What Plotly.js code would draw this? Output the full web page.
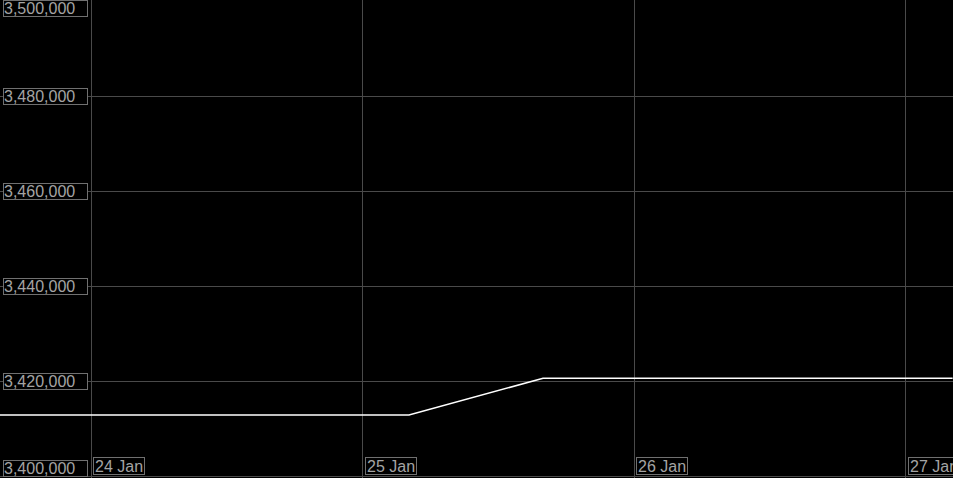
<!DOCTYPE html>
<html><head>
<meta charset="utf-8">
<script src="https://cdn.plot.ly/plotly-3.0.1.min.js"></script>
<style>html,body{margin:0;padding:0;background:#000;overflow:hidden}</style>
</head><body>
<div id="chart" style="width:953px;height:478px"></div>
<script>
// Data
const dates = ['2024-01-23 15:56', '2024-01-25 04:05', '2024-01-25 15:56', '2024-01-27 04:08'];
const values = [3412840, 3412840, 3420570, 3420570];
const yTicks = [3400000, 3420000, 3440000, 3460000, 3480000, 3500000];
const yLabels = ['3,400,000', '3,420,000', '3,440,000', '3,460,000', '3,480,000', '3,500,000'];
const xTicks = ['2024-01-24', '2024-01-25', '2024-01-26', '2024-01-27'];
const xLabels = ['24 Jan', '25 Jan', '26 Jan', '27 Jan'];

const gridColor = '#4a4a4a';
const textColor = '#a4a4a4';
const boxColor = '#707070';
const font = {family: 'Liberation Sans, Arial, sans-serif', size: 16, color: textColor};

const annotations = [];
yTicks.forEach((v, i) => {
  let anchor = 'middle', shift = 0;
  if (i === 0) { anchor = 'bottom'; shift = -1; }
  if (i === yTicks.length - 1) { anchor = 'top'; shift = 1; }
  annotations.push({
    xref: 'paper', x: 0, xanchor: 'left', xshift: 3,
    yref: 'y', y: v, yanchor: anchor, yshift: shift,
    text: yLabels[i], showarrow: false, font: font,
    bordercolor: boxColor, borderwidth: 1, borderpad: 0,
    width: 83, height: 15, align: 'left', bgcolor: '#000'
  });
});
xTicks.forEach((d, i) => {
  annotations.push({
    xref: 'x', x: d, xanchor: 'left', xshift: 2,
    yref: 'paper', y: 0, yanchor: 'bottom', yshift: 3,
    text: xLabels[i], showarrow: false, font: font,
    bordercolor: boxColor, borderwidth: 1, borderpad: 1,
    height: 14, bgcolor: '#000'
  });
});

Plotly.newPlot('chart', [{
  type: 'scatter', mode: 'lines', x: dates, y: values,
  line: {color: '#ffffff', width: 1.5}, hoverinfo: 'skip'
}], {
  width: 953, height: 478,
  margin: {l: 0, r: 0, t: 0, b: 0, pad: 0},
  paper_bgcolor: '#000', plot_bgcolor: '#000',
  showlegend: false,
  xaxis: {
    type: 'date', range: ['2024-01-23 15:56', '2024-01-27 04:10'],
    tickvals: xTicks, showticklabels: false, showgrid: true,
    gridcolor: gridColor, gridwidth: 1, zeroline: false, showline: false, ticks: ''
  },
  yaxis: {
    range: [3399579, 3500210],
    tickvals: yTicks, showticklabels: false, showgrid: true,
    gridcolor: gridColor, gridwidth: 1, zeroline: false, showline: false,
    ticks: 'inside', ticklen: 3, tickcolor: gridColor
  },
  annotations: annotations
}, {displayModeBar: false, staticPlot: true});
</script>
</body></html>
